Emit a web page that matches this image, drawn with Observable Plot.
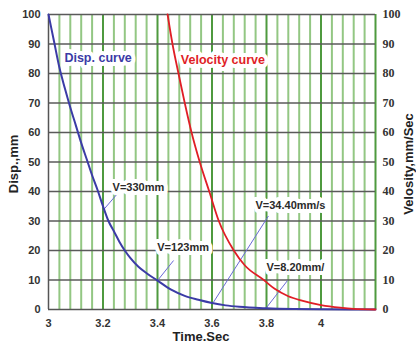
<!DOCTYPE html>
<html>
<head>
<meta charset="utf-8">
<script src="https://cdn.jsdelivr.net/npm/d3@7"></script>
<script src="https://cdn.jsdelivr.net/npm/@observablehq/plot@0.6"></script>
<style>
  html, body { margin: 0; padding: 0; background: #fff; }
  #chart { width: 416px; height: 343px; }
</style>
</head>
<body>
<div id="chart"></div>
<script>
// ---- data ----
const dispTime = [3.00, 3.02, 3.04, 3.06, 3.08, 3.10, 3.12, 3.14, 3.16, 3.18, 3.20, 3.22, 3.24, 3.26, 3.28, 3.30, 3.33, 3.36, 3.40, 3.45, 3.50, 3.55, 3.60, 3.65, 3.70, 3.80, 3.90, 4.00, 4.20];
const dispValues = [100, 91, 82, 75, 68.5, 62.5, 56.5, 51, 45.5, 40.5, 35, 30, 26.5, 23, 20, 17.5, 14.5, 12.3, 9.8, 6.7, 4.6, 3.3, 2.2, 1.4, 0.9, 0.4, 0.15, 0.05, 0];

const velTime = [3.437, 3.455, 3.477, 3.50, 3.525, 3.555, 3.59, 3.625, 3.68, 3.72, 3.79, 3.83, 3.88, 3.93, 4.00, 4.07, 4.12, 4.20];
const velValues = [100, 90, 80, 70, 60, 50, 40, 30, 20, 15, 10, 7, 4.5, 3, 1.5, 0.6, 0.2, 0];

const xTickLabels = [3, 3.2, 3.4, 3.6, 3.8, 4];
const xMajorGrid = [3.2, 3.4, 3.6, 3.8, 4.0, 4.2];
const xMinorGrid = [3.04, 3.08, 3.12, 3.16, 3.24, 3.28, 3.32, 3.36, 3.44, 3.48, 3.52, 3.56, 3.64, 3.68, 3.72, 3.76, 3.84, 3.88, 3.92, 3.96, 4.04, 4.08, 4.12, 4.16];
const yTicks = [0, 10, 20, 30, 40, 50, 60, 70, 80, 90, 100];

const noteTexts = ["V=330mm", "V=123mm", "V=34.40mm/s", "V=8.20mm/"];
const noteX = [3.330, 3.494, 3.888, 3.906];
const noteY = [41.5, 21.1, 35.3, 14.3];
const leaderFromX = [3.200, 3.400, 3.605, 3.797];
const leaderFromY = [33.6, 9.8, 2.4, 0.3];
const leaderToX = [3.257, 3.459, 3.807, 3.877];
const leaderToY = [39.7, 16.6, 31.7, 9.8];

const curveNames = ["Disp. curve", "Velocity curve"];
const curveLabelX = [3.182, 3.640];
const curveLabelY = [85.4, 84.7];
const curveColors = ["#3b3ba6", "#e01e26"];

const xTitle = "Time.Sec";
const yLeftTitle = "Disp.,mm";
const yRightTitle = "Velosity,mm/Sec";

// ---- tables built from arrays ----
const disp = dispTime.map((t, i) => ({t, v: dispValues[i]}));
const vel = velTime.map((t, i) => ({t, v: velValues[i]}));
const notes = noteTexts.map((s, i) => ({s, x: noteX[i], y: noteY[i], x1: leaderFromX[i], y1: leaderFromY[i], x2: leaderToX[i], y2: leaderToY[i]}));
const curveLabels = curveNames.map((s, i) => ({s, x: curveLabelX[i], y: curveLabelY[i], c: curveColors[i]}));

const SANS = "'Liberation Sans', Arial, sans-serif";
const SERIF = "'Liberation Serif', 'Times New Roman', serif";

const chart = Plot.plot({
  width: 416,
  height: 343,
  marginLeft: 48,
  marginRight: 41,
  marginTop: 14,
  marginBottom: 34,
  x: {domain: [3, 4.2]},
  y: {domain: [0, 100]},
  style: {background: "#fff", fontFamily: SANS},
  marks: [
    Plot.ruleX(xMinorGrid, {stroke: "#93c783", strokeWidth: 2}),
    Plot.ruleX(xMajorGrid, {stroke: "#4f9a3f", strokeWidth: 2}),
    Plot.ruleY(yTicks.filter(d => d > 0), {stroke: "#5a5a5a", strokeWidth: 1.5}),
    Plot.ruleX([3], {stroke: "#555", strokeWidth: 1.5}),
    Plot.ruleY([0], {stroke: "#555", strokeWidth: 1.5}),
    Plot.link(notes, {x1: "x1", y1: "y1", x2: "x2", y2: "y2", stroke: "#6a6ad6", strokeWidth: 1}),
    Plot.line(disp, {x: "t", y: "v", stroke: curveColors[0], strokeWidth: 2, curve: "monotone-x"}),
    Plot.line(vel, {x: "t", y: "v", stroke: curveColors[1], strokeWidth: 1.8, curve: "monotone-x"}),
    Plot.text(notes, {x: "x", y: "y", text: "s", fill: "#2a2a2a", fontSize: 11, fontWeight: "bold",
      stroke: "white", strokeWidth: 8, strokeLinejoin: "round"}),
    Plot.text(curveLabels, {x: "x", y: "y", text: "s", fill: "c", fontSize: 12.5, fontWeight: "bold",
      stroke: "white", strokeWidth: 8, strokeLinejoin: "round"}),
    Plot.axisX(xTickLabels, {tickSize: 0, tickPadding: 10, fontSize: 11, fontWeight: "bold", fill: "#333", label: null, tickFormat: d => String(d)}),
    Plot.axisY(yTicks, {anchor: "left", tickSize: 0, tickPadding: 8, fontSize: 11, fontWeight: "bold", fill: "#333", label: null}),
    Plot.axisY(yTicks, {anchor: "right", tickSize: 0, tickPadding: 7, fontSize: 12, fontWeight: "bold", fill: "#333", fontFamily: SERIF, label: null}),
    Plot.text([xTitle], {frameAnchor: "bottom", dx: -11, dy: 27, lineAnchor: "middle", textAnchor: "middle", fontSize: 13, fontWeight: "bold", fill: "#222"}),
    Plot.text([yLeftTitle], {frameAnchor: "left", dx: -35, dy: 2, rotate: -90, lineAnchor: "middle", textAnchor: "middle", fontSize: 13, fontWeight: "bold", fill: "#222"}),
    Plot.text([yRightTitle], {frameAnchor: "right", dx: 33, dy: 2, rotate: -90, lineAnchor: "middle", textAnchor: "middle", fontSize: 13, fontWeight: "bold", fill: "#222"})
  ]
});
document.getElementById("chart").appendChild(chart);
</script>
</body>
</html>
